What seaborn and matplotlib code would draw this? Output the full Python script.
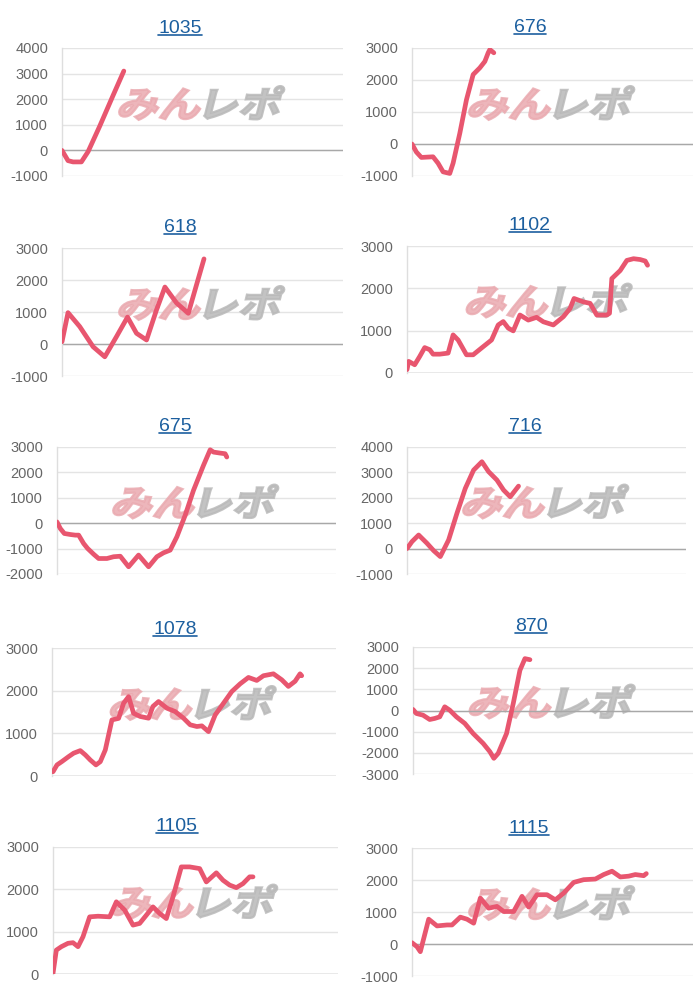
import pandas as pd
import seaborn as sns
import matplotlib.pyplot as plt
from matplotlib.textpath import TextPath
from matplotlib.patches import PathPatch
from matplotlib.font_manager import FontProperties
from matplotlib.transforms import Affine2D
from matplotlib.lines import Line2D

# machine numbers shown above each panel
titles = ['1035', '676', '618', '1102', '675', '716', '1078', '870', '1105', '1115']

# games played / coin difference
games_1035 = [0, 171, 314, 552, 742, 1075, 1455, 1760]
diff_1035 = [0, -400, -450, -450, -50, 950, 2150, 3100]

games_676 = [0, 124, 266, 599, 742, 885, 1075, 1170, 1360, 1550, 1741, 1931, 2074, 2169, 2216, 2330]
diff_676 = [0, -250, -420, -400, -600, -870, -920, -600, 330, 1380, 2170, 2380, 2580, 2850, 2950, 2850]

games_618 = [0, 171, 504, 885, 1218, 1551, 1865, 2121, 2407, 2692, 2930, 3263, 3596, 4043]
diff_618 = [70, 980, 545, -85, -400, 230, 840, 335, 125, 1070, 1780, 1280, 960, 2660]

games_1102 = [0, 47, 215, 355, 495, 636, 729, 916, 1150, 1290, 1430, 1664, 1850, 2084, 2365,
              2551, 2692, 2832, 2972, 3159, 3393, 3626, 3813, 4093, 4374, 4561, 4673, 4935,
              5122, 5308, 5589, 5664, 5729, 5963, 6150, 6337, 6523, 6664, 6729]
diff_1102 = [80, 275, 195, 390, 600, 550, 445, 445, 470, 900, 780, 430, 430, 590, 780,
             1135, 1215, 1060, 995, 1370, 1250, 1315, 1210, 1135, 1330, 1525, 1760, 1680,
             1645, 1370, 1370, 1410, 2230, 2420, 2660, 2700, 2680, 2645, 2545]

games_675 = [0, 95, 210, 382, 525, 621, 764, 878, 1050, 1193, 1432, 1623, 1814, 2053, 2339,
             2626, 2864, 3055, 3246, 3437, 3676, 3914, 4201, 4392, 4487, 4678, 4821, 4869]
diff_675 = [50, -210, -405, -445, -470, -470, -800, -995, -1220, -1390, -1390, -1320, -1300,
            -1715, -1255, -1715, -1320, -1165, -1060, -535, 315, 1295, 2280, 2890, 2800,
            2760, 2735, 2605]

games_716 = [0, 143, 334, 573, 764, 955, 1193, 1432, 1671, 1909, 2148, 2339, 2578, 2769, 2960, 3198]
diff_716 = [0, 275, 535, 210, -80, -315, 340, 1390, 2370, 3090, 3420, 3030, 2700, 2305, 2040, 2460]

games_1078 = [28, 141, 281, 469, 610, 797, 938, 1079, 1238, 1360, 1501, 1688, 1876, 2016,
              2157, 2298, 2485, 2720, 2842, 3001, 3236, 3470, 3705, 3892, 4080, 4221, 4408,
              4596, 4830, 5065, 5299, 5534, 5768, 5956, 6237, 6472, 6659, 6847, 6987, 7034]
diff_1078 = [100, 260, 340, 455, 535, 595, 495, 375, 260, 335, 610, 1315, 1350, 1705,
             1860, 1470, 1395, 1355, 1630, 1745, 1590, 1510, 1355, 1200, 1160, 1175, 1040,
             1430, 1705, 1980, 2160, 2310, 2240, 2350, 2395, 2255, 2100, 2220, 2395, 2350]

games_870 = [0, 95, 286, 477, 621, 764, 907, 1050, 1241, 1480, 1718, 2005, 2196, 2310, 2434,
             2673, 2864, 3055, 3198, 3341]
diff_870 = [50, -140, -220, -425, -375, -300, 175, 15, -300, -610, -1085, -1555, -1945,
            -2260, -2025, -1085, 330, 1900, 2450, 2400]

games_1105 = [0, 94, 234, 421, 561, 702, 842, 1029, 1263, 1591, 1778, 2012, 2246, 2433, 2620,
              2807, 2994, 3181, 3369, 3602, 3836, 4117, 4304, 4585, 4772, 4959, 5146, 5333,
              5520, 5614]
diff_1105 = [15, 565, 645, 725, 740, 645, 880, 1350, 1365, 1350, 1705, 1510, 1155, 1195,
             1390, 1585, 1430, 1310, 1825, 2530, 2530, 2490, 2175, 2390, 2215, 2100, 2040,
             2135, 2295, 2295]

games_1115 = [0, 142, 237, 475, 712, 996, 1139, 1376, 1566, 1756, 1945, 2183, 2420, 2610,
              2894, 3132, 3322, 3559, 3844, 4081, 4318, 4603, 4887, 5220, 5457, 5694, 5931,
              6169, 6358, 6596, 6671]
diff_1115 = [40, -85, -240, 775, 565, 595, 595, 840, 775, 650, 1435, 1120, 1175, 1015, 1015,
             1490, 1155, 1540, 1540, 1380, 1590, 1925, 2010, 2030, 2170, 2275, 2095, 2120,
             2170, 2135, 2200]

games = [games_1035, games_676, games_618, games_1102, games_675,
         games_716, games_1078, games_870, games_1105, games_1115]
diffs = [diff_1035, diff_676, diff_618, diff_1102, diff_675,
         diff_716, diff_1078, diff_870, diff_1105, diff_1115]
y_ranges = [(-1000, 4000), (-1000, 3000), (-1000, 3000), (0, 3000), (-2000, 3000),
            (-1000, 4000), (0, 3000), (-3000, 3000), (0, 3000), (-1000, 3000)]
max_games = 8000

# panel boxes in pixels: left, top, right, bottom (from top-left of the image)
boxes = [(62, 48, 343, 176), (412, 48, 693, 176),
         (62, 248, 343, 376), (407, 246, 693, 373),
         (57, 447, 336, 574), (407, 447, 686, 574),
         (52, 648, 336, 776), (413, 647, 693, 774),
         (53, 847, 338, 974), (412, 848, 693, 976)]
# title centre x / baseline y in pixels
title_pos = [(180, 33), (530, 32), (180, 232), (530, 230), (175, 431),
             (525, 431), (175, 634), (531, 631), (177, 831), (529, 833)]

W, H = 700, 1000
sns.set_style('white')
plt.rcParams['font.family'] = ['Liberation Sans', 'DejaVu Sans']
plt.rcParams['axes.unicode_minus'] = False

fig = plt.figure(figsize=(W / 100, H / 100), dpi=100)
line_col = '#e8566f'
fp_logo = FontProperties(family='Noto Sans CJK JP', weight='bold')


def add_logo(ax):
    pos = ax.get_position()
    cx = (pos.x0 + pos.width * 0.49) * W / 100   # inches
    cy = (pos.y0 + pos.height * 0.56) * H / 100
    em_x, em_y = 0.42, 0.36
    x0 = cx - 0.84
    base = cy - 0.36 * em_y
    for txt, col, off in [('みん', '#eaaab0', 0.0), ('レポ', '#b9b9b9', 0.80)]:
        tp = TextPath((0, 0), txt, size=1, prop=fp_logo)
        tr = Affine2D().scale(em_x, em_y).skew_deg(14, 0).translate(x0 + off, base)
        patch = PathPatch(tp, transform=tr + fig.dpi_scale_trans, facecolor=col,
                          edgecolor=col, linewidth=1.6, alpha=0.85, zorder=1.5)
        ax.add_artist(patch)


for i in range(10):
    l, t, r, b = boxes[i]
    ax = fig.add_axes([l / W, 1 - b / H, (r - l) / W, (b - t) / H])
    df = pd.DataFrame({'games': games[i], 'diff': diffs[i]})
    sns.lineplot(data=df, x='games', y='diff', ax=ax, color=line_col, linewidth=3.4,
                 estimator=None, solid_capstyle='round', solid_joinstyle='round', zorder=3)
    lo, hi = y_ranges[i]
    ax.set_xlim(0, max_games)
    ax.set_ylim(lo, hi)
    ax.set_yticks(range(lo, hi + 1, 1000))
    ax.set_xticks([])
    ax.set_xlabel('')
    ax.set_ylabel('')
    ax.grid(axis='y', color='#e4e4e4', linewidth=1)
    ax.axhline(0, color='#a8a8a8', linewidth=1, zorder=2)
    for s in ['top', 'right', 'bottom']:
        ax.spines[s].set_visible(False)
    ax.spines['left'].set_color('#dedede')
    ax.spines['left'].set_linewidth(1)
    ax.tick_params(axis='y', length=0, pad=10, labelsize=10.5, labelcolor='#666666')
    add_logo(ax)

# titles, underlined like links
renderer = fig.canvas.get_renderer()
for name, (tx, ty) in zip(titles, title_pos):
    txt = fig.text(tx / W, 1 - ty / H, name, ha='center', va='baseline',
                   fontsize=14, color='#1c5f9f')
    bb = txt.get_window_extent(renderer)
    uy = 1 - (ty + 1.5) / H
    fig.add_artist(Line2D([bb.x0 / W, bb.x1 / W], [uy, uy], transform=fig.transFigure,
                          color='#1c5f9f', linewidth=1.2))

fig.savefig('out.png', dpi=100)
